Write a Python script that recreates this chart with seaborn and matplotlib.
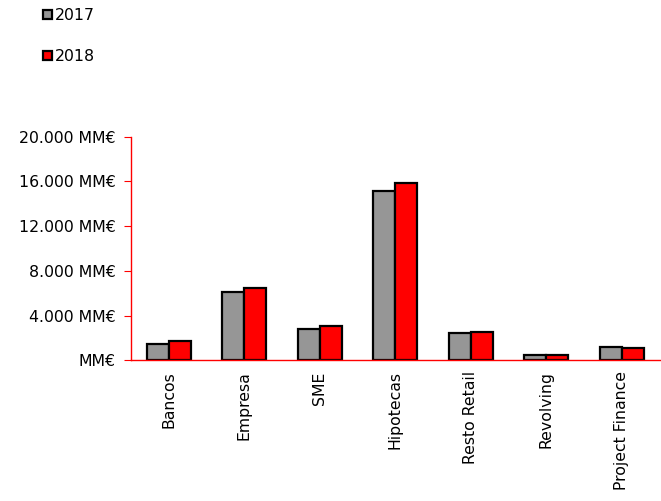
import pandas as pd
import seaborn as sns
import matplotlib.pyplot as plt
from matplotlib.ticker import FixedLocator

# Data
categories = ['Bancos', 'Empresa', 'SME', 'Hipotecas', 'Resto Retail', 'Revolving', 'Project Finance']
years = ['2017', '2018']
values_2017 = [1430, 6150, 2780, 15170, 2450, 480, 1140]
values_2018 = [1700, 6420, 3050, 15890, 2570, 470, 1080]
y_ticks = [0, 4000, 8000, 12000, 16000, 20000]
y_labels = ['MM€', '4.000 MM€', '8.000 MM€', '12.000 MM€', '16.000 MM€', '20.000 MM€']

df = pd.DataFrame({
    'cat': categories * 2,
    'year': [years[0]] * len(categories) + [years[1]] * len(categories),
    'val': values_2017 + values_2018,
})

sns.set_style('white')
plt.rcParams['font.family'] = ['DejaVu Sans']
plt.rcParams['text.color'] = 'black'
plt.rcParams['xtick.labelcolor'] = 'black'
plt.rcParams['ytick.labelcolor'] = 'black'

fs = 11.3

fig = plt.figure(figsize=(6.61, 5.01), dpi=100)
ax = fig.add_axes([0.198, 0.281, 0.8, 0.446])

sns.barplot(data=df, x='cat', y='val', hue='year', order=categories,
            palette=['#969696', '#ff0000'], saturation=1, width=0.58,
            edgecolor='black', linewidth=1.6, ax=ax, legend=True)

ax.set_xlim(-0.5, len(categories) - 0.5)
ax.set_ylim(0, 20000)
ax.set_yticks(y_ticks)
ax.set_yticklabels(y_labels, fontsize=fs)
ax.set_xticks(range(len(categories)))
ax.set_xticklabels(categories, rotation=90, fontsize=fs)
ax.xaxis.set_minor_locator(FixedLocator([i - 0.5 for i in range(len(categories) + 1)]))
ax.tick_params(axis='x', which='major', length=0, pad=8)
ax.tick_params(axis='x', which='minor', length=5, color='red', direction='out')
ax.tick_params(axis='y', length=5, color='red', direction='out', left=True, pad=6)
ax.set_xlabel('')
ax.set_ylabel('')

for s in ['top', 'right']:
    ax.spines[s].set_visible(False)
for s in ['left', 'bottom']:
    ax.spines[s].set_color('red')
    ax.spines[s].set_linewidth(1)

handles, labels = ax.get_legend_handles_labels()
ax.get_legend().remove()
leg = fig.legend(handles, labels, loc='upper left', bbox_to_anchor=(0.044, 1.012),
                 frameon=False, fontsize=fs, handlelength=0.55, handleheight=0.55,
                 handletextpad=0.2, labelspacing=1.65)

fig.savefig('out.png', dpi=100)
